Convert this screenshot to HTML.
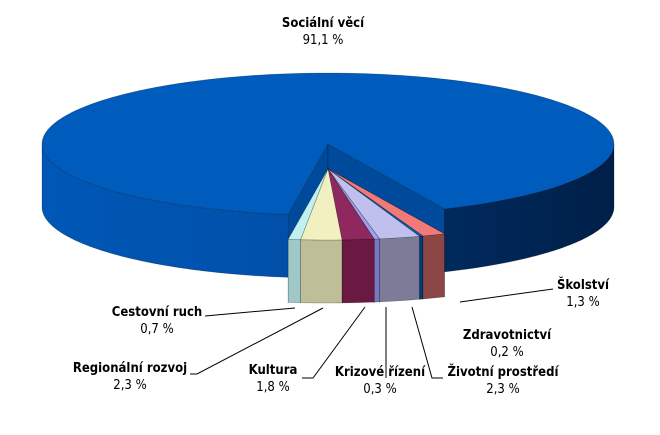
<!DOCTYPE html>
<html><head><meta charset="utf-8"><style>
html,body{margin:0;padding:0;background:#fff;}
svg{display:block;font-family:Tahoma,"DejaVu Sans Condensed","Liberation Sans",sans-serif;}
</style></head><body>
<svg id="chart" width="660" height="435" viewBox="0 0 660 435" xmlns="http://www.w3.org/2000/svg">
<defs>
<linearGradient id="blueSide" gradientUnits="userSpaceOnUse" x1="42" y1="0" x2="614" y2="0">
<stop offset="0" stop-color="#0057b5"/><stop offset="0.5" stop-color="#004fa8"/>
<stop offset="0.7" stop-color="#002a5e"/><stop offset="1" stop-color="#001f48"/>
</linearGradient>
</defs>
<g id="slices"></g><g id="labels"></g>
</svg>
<script>
const categories = ["Sociální věcí","Školství","Zdravotnictví","Životní prostředí","Krizové řízení","Kultura","Regionální rozvoj","Cestovní ruch"];
const values = [91.1,1.3,0.2,2.3,0.3,1.8,2.3,0.7];
const valueLabels = ["91,1 %","1,3 %","0,2 %","2,3 %","0,3 %","1,8 %","2,3 %","0,7 %"];
const topColors = ["#005cbc","#f07a78","#0060c0","#c0c0ee","#a0a0f0","#902860","#f0f0c0","#c0f0f0"];
const sideColors = ["url(#blueSide)","#8c4646","#003a78","#7c7c98","#7878c0","#6a1a42","#bebe98","#a0c8c8"];
const cutColors = ["#004a9c","#6a3030","#002a58","#9090b8","#5858a0","#3e1028","#d8d8b0","#b0dcdc"];
// label layout: [x, y(name), lineFrom(x,y), lineMid, lineTo]
const labelPos = [
 {x:323,y:27,line:null},
 {x:583,y:289,line:[[553,289],[460,302]]},
 {x:507,y:339,line:null},
 {x:503,y:376,line:[[443,378],[432,378],[412,307]]},
 {x:380,y:376,line:[[386,378],[386,307]]},
 {x:273,y:374,line:[[302,378],[313,378],[365,307]]},
 {x:130,y:372,line:[[190,374],[197,374],[323,308]]},
 {x:157,y:316,line:[[205,316],[295,308]]}
];
const CX=328, CY=144, RX=286, RY=71, DEPTH=63, START=98, EXPLODE=25;
const NS="http://www.w3.org/2000/svg";
const gS=document.getElementById('slices'), gL=document.getElementById('labels');
const total=values.reduce((a,b)=>a+b,0);
function pt(c,a,dy){const r=a*Math.PI/180;return [c[0]+RX*Math.cos(r), c[1]+RY*Math.sin(r)+(dy||0)];}
function mk(tag,attrs,parent){const e=document.createElementNS(NS,tag);for(const k in attrs)e.setAttribute(k,attrs[k]);parent.appendChild(e);return e;}
function arcPts(c,a,b,dy){const p=[];const n=Math.max(2,Math.ceil(Math.abs(b-a)));for(let i=0;i<=n;i++)p.push(pt(c,a+(b-a)*i/n,dy));return p;}
const slices=[];let ang=START;
values.forEach((v,i)=>{const sweep=v/total*360;slices.push({i,a:ang,b:ang+sweep});ang+=sweep;});
// draw order: main first, then small slices outermost first
const order=[0].concat(slices.slice(1).map(s=>s.i).sort((p,q)=>{
 const mp=Math.abs(((slices[p].a+slices[p].b)/2%360)-90), mq=Math.abs(((slices[q].a+slices[q].b)/2%360)-90); return mq-mp;}));
order.forEach(i=>{
 const s=slices[i];
 const c=i===0?[CX,CY]:[CX,CY+EXPLODE];
 const g=mk('g',{},gS);
 
 
 // cut faces
 [s.a,s.b].forEach(t=>{
  const e=pt(c,t);
  const poly=[c,e,[e[0],e[1]+DEPTH],[c[0],c[1]+DEPTH]];
  const p=mk('polygon',{points:poly.map(q=>q.join(',')).join(' '),fill:cutColors[i],stroke:'rgba(0,0,0,0.35)','stroke-width':0.6},g);
  
  
 });
 // outer side
 [[0,180],[360,540]].forEach(r=>{
  const lo=Math.max(s.a,r[0]), hi=Math.min(s.b,r[1]);
  if(hi>lo){
   const top=arcPts(c,lo,hi,0), bot=arcPts(c,hi,lo,DEPTH);
   const p=mk('polygon',{points:top.concat(bot).map(q=>q.join(',')).join(' '),fill:sideColors[i],stroke:'rgba(0,0,0,0.35)','stroke-width':0.6},g);
   
   
  }
 });
 // top face
 const tp=[c].concat(arcPts(c,s.a,s.b,0));
 const p=mk('polygon',{points:tp.map(q=>q.join(',')).join(' '),fill:topColors[i],stroke:'rgba(0,0,0,0.3)','stroke-width':0.6},g);
 
 
});
categories.forEach((cat,i)=>{
 const L=labelPos[i];
 if(L.line){
  const pl=mk('polyline',{points:L.line.map(q=>q.join(',')).join(' '),fill:'none',stroke:'#000','stroke-width':1},gL);
  
  
 }
 const t1=mk('text',{x:L.x,y:L.y,'text-anchor':'middle','font-size':13,'font-weight':'bold',fill:'#000'},gL);
 t1.textContent=cat;
 
 
 const t2=mk('text',{x:L.x,y:L.y+17,'text-anchor':'middle','font-size':13,fill:'#000'},gL);
 t2.textContent=valueLabels[i];
 
 
});
</script>
</body></html>
